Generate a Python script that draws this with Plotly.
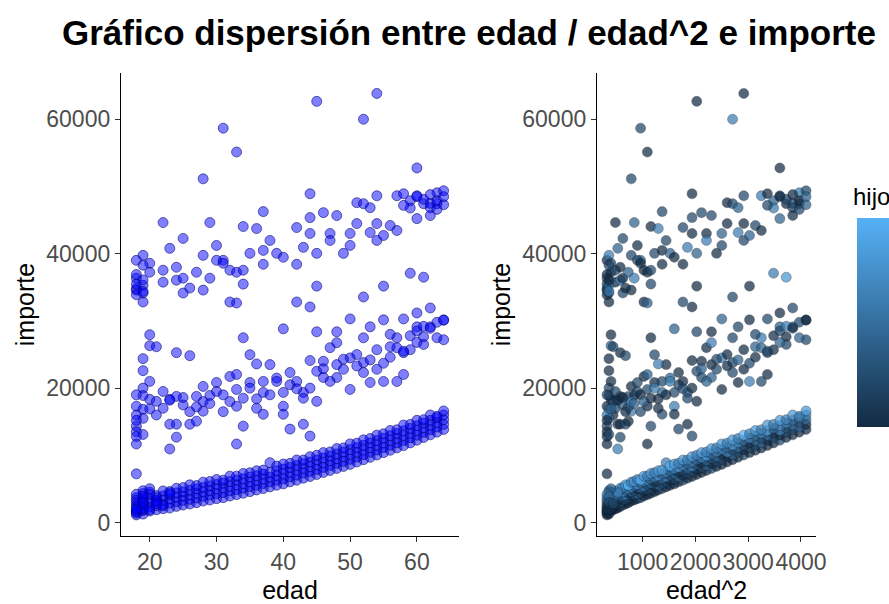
import plotly.graph_objects as go

# ---------------- datos ----------------
# banda inferior (no fumadores): una fila de valores por edad 18..64
edad_base = [18, 19, 20, 21, 22, 23, 24, 25, 26, 27,
             28, 29, 30, 31, 32, 33, 34, 35, 36, 37,
             38, 39, 40, 41, 42, 43, 44, 45, 46, 47,
             48, 49, 50, 51, 52, 53, 54, 55, 56, 57,
             58, 59, 60, 61, 62, 63, 64]
importe_base_a = [1130, 1250, 1700, 1900, 2050, 2150, 2400, 2600, 2750, 2950,
                  3200, 3350, 3550, 3700, 3950, 4150, 4350, 4600, 4850, 5050,
                  5300, 5550, 5750, 6050, 6300, 6600, 6850, 7150, 7450, 7750,
                  8050, 8350, 8650, 9000, 9350, 9700, 10050, 10400, 10750, 11100,
                  11450, 11850, 12250, 12650, 13050, 13450, 13850]
importe_base_b = [1700, 1900, 2300, 2500, 2700, 2900, 3100, 3300, 3450, 3650,
                  3900, 4100, 4300, 4450, 4700, 4900, 5100, 5350, 5550, 5800,
                  6050, 6300, 6500, 6800, 7050, 7350, 7600, 7900, 8200, 8500,
                  8800, 9100, 9400, 9750, 10100, 10450, 10800, 11150, 11500, 11850,
                  12200, 12600, 13000, 13400, 13800, 14200, 14600]
importe_base_c = [2200, 2500, 2900, 3100, 3300, 3500, 3750, 3900, 4100, 4350,
                  4550, 4750, 5000, 5150, 5400, 5600, 5800, 6050, 6250, 6500,
                  6750, 7000, 7250, 7500, 7800, 8050, 8300, 8600, 8900, 9200,
                  9500, 9800, 10150, 10450, 10800, 11150, 11500, 11850, 12200, 12550,
                  12950, 13300, 13700, 14100, 14500, 14900, 15300]
importe_base_d = [2900, 3200, 3500, 3700, 3950, 4150, 4400, 4550, 4800, 5000,
                  5200, 5450, 5650, 5850, 6100, 6300, 6500, 6750, 6950, 7200,
                  7450, 7700, 7950, 8200, 8500, 8750, 9000, 9300, 9600, 9900,
                  10200, 10500, 10850, 11150, 11500, 11850, 12200, 12550, 12900, 13250,
                  13650, 14000, 14400, 14800, 15200, 15600, 16000]
importe_base_e = [3700, 4300, 4500, 4000, 4700, 4600, 5100, 5200, 5600, 5500,
                  6000, 6100, 6400, 6300, 6900, 6900, 7300, 7400, 7700, 7800,
                  8900, 8400, 8700, 8800, 9300, 9300, 9800, 10000, 10400, 10500,
                  11000, 11100, 11700, 11800, 12300, 12500, 13000, 13200, 13700, 13800,
                  14500, 14600, 15200, 15300, 16000, 15800, 16600]
hijos_base_a = [0, 0, 1, 0, 0, 0, 0, 1, 0, 0, 0, 0, 0, 1, 0, 0, 0, 0, 0, 1,
                0, 0, 0, 0, 1, 0, 0, 0, 0, 0, 1, 0, 0, 0, 0, 0, 1, 0, 0, 0,
                0, 0, 1, 0, 0, 0, 0]
hijos_base_b = [1, 0, 1, 1, 0, 1, 2, 0, 1, 1, 0, 1, 2, 1, 0, 1, 1, 0, 2, 1,
                1, 0, 1, 2, 0, 1, 1, 0, 1, 2, 0, 1, 1, 0, 2, 1, 0, 1, 1, 2,
                0, 1, 0, 1, 1, 2, 0]
hijos_base_c = [2, 1, 2, 0, 2, 1, 1, 2, 3, 0, 2, 1, 0, 2, 3, 1, 2, 0, 1, 2,
                3, 1, 2, 0, 1, 2, 3, 1, 0, 2, 1, 2, 0, 3, 1, 2, 1, 0, 2, 1,
                2, 0, 3, 1, 2, 1, 2]
hijos_base_d = [3, 2, 4, 3, 2, 3, 2, 4, 2, 3, 3, 2, 4, 2, 3, 3, 2, 3, 4, 2,
                3, 2, 3, 4, 3, 2, 3, 2, 3, 4, 2, 3, 3, 2, 4, 3, 2, 3, 2, 3,
                4, 2, 3, 3, 2, 3, 3]
hijos_base_e = [5, 4, 3, 4, 5, 3, 4, 3, 4, 5, 3, 4, 3, 5, 4, 3, 4, 3, 4, 4,
                3, 5, 4, 3, 4, 3, 4, 3, 4, 3, 4, 3, 4, 3, 4, 3, 5, 3, 4, 3,
                4, 3, 4, 3, 4, 3, 4]

# puntos adicionales de la banda inferior (edades jóvenes, más densas)
edad_extra = [18, 18, 18, 19, 19, 19, 18, 19, 20, 21, 22, 23, 18, 19, 20,
              18, 19, 18, 19, 20, 21]
importe_extra = [1600, 2500, 3300, 1800, 2800, 3600, 1400, 2100, 4200, 3300,
                 2500, 4400, 7240, 4730, 5030,
                 4200, 3900, 2000, 3000, 1900, 2800]
hijos_extra = [0, 1, 2, 0, 1, 3, 0, 1, 4, 2, 0, 3, 0, 1, 2,
               3, 2, 0, 1, 0, 1]

# banda intermedia
edad_medio = [18, 18, 18, 19, 20, 21, 23, 23, 24, 24,
              23, 24, 26, 27, 27, 28, 28, 30, 32, 33,
              33, 34, 33, 35, 37, 37, 38, 40, 40, 40,
              41, 41, 43, 43, 44, 45, 46, 48, 50, 52,
              53, 55, 57, 58,
              45, 52, 55, 59, 61, 32, 42, 44, 40, 34,
              45, 48, 50, 53, 55, 57, 58, 60, 62, 62,
              64, 64, 60, 61, 35, 47, 48, 52, 54, 56,
              58, 59,
              20, 20, 21, 24, 26, 19, 36,
              45, 46, 47, 48, 49, 50, 51, 52, 53, 54,
              55, 56, 57, 58, 59, 60, 61, 62, 63, 64,
              63, 61,
              29, 30, 31, 32, 33, 34, 35, 36, 37, 38,
              39, 41, 42, 43, 44, 25, 26, 27, 28, 21,
              22, 23, 19, 18, 19, 18, 20,
              18, 19, 18, 19, 20, 18, 19, 22, 25, 29,
              31, 36, 39, 42, 44, 46, 49, 51, 56, 60]
importe_medio = [11680, 14340, 17300, 16850, 18330, 18030, 14630, 10940, 12700, 14630,
                 18330, 18770, 14630, 15080, 18770, 16560, 20250, 20840, 21730, 22030,
                 17300, 14340, 11680, 20840, 19360, 16110, 23500, 19360, 17300, 16110,
                 13900, 22320, 19360, 14630, 12860, 18030, 21580, 21580, 19800, 22320,
                 20840, 20990, 20990, 22030,
                 35180, 33560, 35180, 37100, 36510, 32820, 32820, 32080, 28820, 27490,
                 28380, 28380, 30300, 29120, 30160, 27490, 30300, 31190, 31930, 29120,
                 30160, 27200, 29120, 27640, 24980, 26020, 26760, 27490, 25720, 26160,
                 25280, 25720,
                 27940, 26310, 26160, 25280, 24830, 24390, 23600,
                 22500, 24000, 21000, 23500, 22800, 24500, 25000, 23800, 24200, 22800,
                 23700, 24600, 26000, 25500, 27800, 28500, 29200, 28900, 29800, 30100,
                 27500, 26500,
                 18900, 19500, 19000, 18000, 19800, 18500, 20000, 17000, 21000, 19000,
                 21500, 20500, 21000, 18500, 20000, 17500, 16500, 17200, 18000, 16000,
                 17000, 18200, 15500, 13500, 20000, 16000, 21000,
                 12800, 13100, 15200, 18900, 16900, 19000, 22600, 19500, 18600, 17700,
                 16500, 18400, 21000, 19900, 24100, 22900, 24300, 23300, 28000, 26800]
hijos_medio = [0, 1, 0, 2, 0, 1, 0, 3, 1, 0,
               2, 0, 1, 0, 1, 3, 0, 1, 0, 2,
               0, 1, 0, 0, 2, 1, 0, 1, 3, 0,
               1, 0, 2, 0, 1, 0, 1, 2, 0, 1,
               0, 3, 1, 0,
               0, 1, 0, 3, 4, 0, 1, 0, 2, 0,
               1, 0, 2, 1, 0, 3, 1, 0, 1, 2,
               0, 1, 2, 0, 1, 0, 3, 1, 0, 2,
               1, 0,
               0, 2, 1, 0, 1, 0, 3,
               1, 0, 2, 0, 1, 3, 0, 1, 2, 0,
               1, 0, 2, 1, 0, 1, 3, 0, 1, 0,
               2, 1,
               0, 1, 0, 2, 1, 0, 3, 0, 1, 0,
               2, 1, 0, 1, 0, 2, 0, 1, 3, 0,
               1, 0, 2, 0, 1, 3, 0,
               0, 1, 0, 0, 2, 1, 0, 1, 0, 2,
               1, 0, 3, 1, 0, 2, 1, 0, 1, 2]

# banda superior
edad_alto = [44, 29, 37, 34, 36, 38, 30, 31, 32, 34,
             35, 37, 39, 40, 42, 43, 42, 44, 44, 45,
             46, 47, 47, 48, 49, 50, 50, 51, 52, 53,
             51, 53, 54, 54, 55, 56, 57, 54, 57, 58,
             59, 60, 61, 62, 63, 63, 64, 60, 62, 63,
             18, 18, 18, 19, 19, 20, 20, 19, 22, 22,
             22, 23, 25, 24, 24, 25, 25, 27, 26, 28,
             28, 29, 30, 31, 33, 33, 34, 37,
             18, 18, 18, 19, 19, 19, 18, 19, 62, 63,
             64, 61, 60, 59, 58, 62, 64]
importe_alto = [48930, 44640, 46270, 44050, 43750, 41980, 41240, 39020, 37550, 35480,
                40060, 40500, 40060, 39470, 43900, 40950, 38430, 45380, 43020, 40060,
                46120, 43020, 41980, 45680, 40060, 43020, 41240, 47600, 47450, 46860,
                44490, 43160, 41980, 44490, 42720, 44200, 43460, 48630, 48630, 48930,
                47890, 48630, 47450, 46860, 49080, 47450, 49370, 45230, 45680, 46600,
                39020, 36360, 34590, 32820, 39760, 38580, 37250, 34150, 44640, 37550,
                35770, 40800, 42280, 37990, 36070, 36360, 34150, 37250, 34890, 39760,
                34590, 36360, 39020, 38580, 32670, 37250, 37550, 38430,
                34800, 35500, 36900, 35300, 36100, 38300, 33900, 34400, 47500, 47900,
                47300, 48100, 48500, 46800, 47200, 48800, 48500]
hijos_alto = [0, 2, 1, 0, 3, 1, 0, 2, 0, 1,
              1, 0, 2, 0, 1, 3, 0, 1, 0, 2,
              1, 0, 3, 1, 0, 2, 1, 0, 1, 2,
              0, 3, 1, 0, 2, 1, 0, 1, 3, 0,
              2, 1, 0, 1, 3, 0, 1, 2, 0, 1,
              0, 1, 2, 0, 3, 1, 0, 2, 0, 1,
              0, 2, 1, 0, 3, 0, 1, 2, 0, 1,
              0, 3, 1, 0, 2, 0, 1, 0,
              0, 1, 0, 2, 0, 1, 0, 3, 1, 0,
              2, 1, 0, 3, 1, 0, 2]

# valores atípicos
edad_atipico = [31, 33, 28, 45, 54, 52, 60]
importe_atipico = [58690, 55140, 51150, 62680, 63860, 60020, 52770]
hijos_atipico = [1, 0, 1, 0, 0, 3, 0]

# ejes
ticks_edad = [20, 30, 40, 50, 60]
ticks_edad2 = [1000, 2000, 3000, 4000]
ticks_importe = [0, 20000, 40000, 60000]
ticks_hijos = [1, 2, 3, 4]

# ---------------- ensamblado ----------------
edad = (edad_base * 5) + edad_extra + edad_medio + edad_alto + edad_atipico
importe = (importe_base_a + importe_base_b + importe_base_c + importe_base_d
           + importe_base_e + importe_extra + importe_medio + importe_alto
           + importe_atipico)
hijos = (hijos_base_a + hijos_base_b + hijos_base_c + hijos_base_d + hijos_base_e
         + hijos_extra + hijos_medio + hijos_alto + hijos_atipico)
edad2 = [e ** 2 for e in edad]

W, H = 889, 604
FONT = "Liberation Sans, Arial, sans-serif"

fig = go.Figure()
fig.add_trace(go.Scatter(
    x=edad, y=importe, mode="markers", xaxis="x", yaxis="y",
    marker=dict(size=10, color="rgba(0,0,255,0.5)",
                line=dict(color="rgba(0,0,110,0.55)", width=1)),
    showlegend=False, hoverinfo="skip"))

cb_y0, cb_y1 = (H - 427) / H, (H - 218) / H
fig.add_trace(go.Scatter(
    x=edad2, y=importe, mode="markers", xaxis="x2", yaxis="y2",
    marker=dict(size=10, color=hijos, cmin=0, cmax=5,
                colorscale=[[0, "#132B43"], [1, "#56B1F7"]], opacity=0.72,
                line=dict(color="rgba(10,20,35,0.45)", width=1),
                showscale=True,
                colorbar=dict(x=857 / W, xanchor="left", xpad=0, ypad=0,
                              y=cb_y0, yanchor="bottom", len=cb_y1 - cb_y0,
                              lenmode="fraction", thickness=32,
                              outlinewidth=0, showticklabels=False, ticks="")),
    showlegend=False, hoverinfo="skip"))

ydom = [(H - 536) / H, (H - 73) / H]
axis_common = dict(showline=True, linecolor="black", linewidth=1.3,
                   showgrid=False, zeroline=False, ticks="outside", ticklen=5,
                   tickwidth=1.3, tickcolor="#333333", tickangle=0,
                   tickfont=dict(family=FONT, size=23, color="#4D4D4D"),
                   automargin=False)

fig.update_layout(
    width=W, height=H, margin=dict(l=0, r=0, t=0, b=0),
    paper_bgcolor="white", plot_bgcolor="white",
    font=dict(family=FONT),
    title=dict(text="<b>Gráfico dispersión entre edad / edad^2 e importe</b>",
               x=469 / W, xanchor="center", xref="paper",
               y=1 - 33 / H, yanchor="middle", yref="container",
               font=dict(family=FONT, size=35, color="black")),
    xaxis=dict(domain=[121 / W, 459 / W], range=[15.7, 66.3],
               tickvals=ticks_edad, anchor="y",
               title=dict(text="edad", standoff=10,
                          font=dict(family=FONT, size=25, color="black")),
               **axis_common),
    yaxis=dict(domain=ydom, range=[-2010, 66902], tickvals=ticks_importe,
               tickformat="d", anchor="x",
               title=dict(text="importe", standoff=4,
                          font=dict(family=FONT, size=25, color="black")),
               **axis_common),
    xaxis2=dict(domain=[597 / W, 816 / W], range=[135, 4285],
                tickvals=ticks_edad2, tickformat="d", anchor="y2",
                title=dict(text="edad^2", standoff=10,
                           font=dict(family=FONT, size=25, color="black")),
                **axis_common),
    yaxis2=dict(domain=ydom, range=[-2010, 66902], tickvals=ticks_importe,
                tickformat="d", anchor="x2",
                title=dict(text="importe", standoff=4,
                           font=dict(family=FONT, size=25, color="black")),
                **axis_common),
)

# título de la leyenda (cortado por el borde derecho, como en el original)
fig.add_annotation(text="hijos", x=851 / W, y=1 - 196 / H, xref="paper",
                   yref="paper", xanchor="left", yanchor="middle",
                   showarrow=False,
                   font=dict(family=FONT, size=24, color="black"))

# marcas blancas de la barra de color
for v in ticks_hijos:
    yy = cb_y0 + (cb_y1 - cb_y0) * v / 5
    fig.add_shape(type="line", xref="paper", yref="paper",
                  x0=857 / W, x1=863 / W, y0=yy, y1=yy,
                  line=dict(color="white", width=1.2))

fig.write_html("out.html", config={"displayModeBar": False},
               post_script="document.body.style.margin='0px';"
                           "document.body.style.overflow='hidden';")
